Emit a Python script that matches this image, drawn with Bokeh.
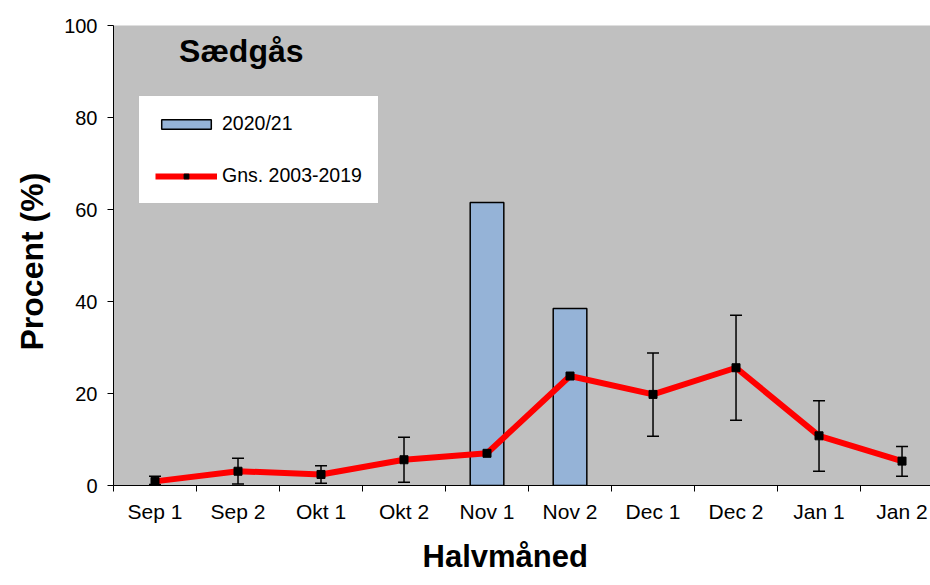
import math
from bokeh.plotting import figure
from bokeh.models import (Range1d, FixedTicker, ColumnDataSource, Whisker, TeeHead,
                          Legend, LegendItem, Label, Title)
from bokeh.embed import file_html
from bokeh.resources import INLINE

# ---- data ----
categories = ["Sep 1", "Sep 2", "Okt 1", "Okt 2", "Nov 1", "Nov 2",
              "Dec 1", "Dec 2", "Jan 1", "Jan 2"]
season_2020 = [0, 0, 0, 0, 61.5, 38.5, 0, 0, 0, 0]
mean_2003_2019 = [0.9, 3.1, 2.4, 5.6, 7.0, 23.8, 19.8, 25.6, 10.8, 5.3]
err_upper = [2.0, 5.9, 4.3, 10.5, 12.2, 37.3, 28.8, 37.0, 18.4, 8.5]
err_lower = [0.2, 0.3, 0.5, 0.7, 1.7, 10.1, 10.7, 14.2, 3.1, 2.0]
y_ticks = [0, 20, 40, 60, 80, 100]

FONT = "Liberation Sans"
xs = list(range(len(categories)))

src = ColumnDataSource(dict(x=xs, avg=mean_2003_2019, hi=err_upper, lo=err_lower))
bar_idx = [i for i, v in enumerate(season_2020) if v > 0]
bar_src = ColumnDataSource(dict(x=bar_idx, top=[season_2020[i] for i in bar_idx]))

p = figure(width=930, height=585,
           x_range=Range1d(-0.5, 9.343), y_range=Range1d(0, 100),
           output_backend="svg", toolbar_location=None,
           min_border_left=113, min_border_top=25,
           min_border_right=0, min_border_bottom=100)

p.background_fill_color = "#C0C0C0"
p.border_fill_color = "white"
p.outline_line_color = None
p.xgrid.visible = False
p.ygrid.visible = False

# bars
bars = p.vbar(x="x", top="top", width=0.405, source=bar_src,
              fill_color="#95B3D7", line_color="black", line_width=1.5)

# error bars
wh = Whisker(source=src, base="x", upper="hi", lower="lo",
             line_color="black", line_width=1.5,
             upper_head=TeeHead(size=12, line_color="black", line_width=1.5),
             lower_head=TeeHead(size=12, line_color="black", line_width=1.5))
p.add_layout(wh)

# mean line
ln = p.line(x="x", y="avg", source=src, line_color="#FF0000", line_width=6)
sc = p.scatter(x="x", y="avg", source=src, marker="square", size=8,
               fill_color="black", line_color="black")

# axes
p.xaxis.ticker = FixedTicker(ticks=xs, minor_ticks=[i - 0.5 for i in range(len(categories) + 1)])
p.xaxis.major_label_overrides = {i: c for i, c in enumerate(categories)}
p.xaxis.major_tick_line_color = None
p.xaxis.minor_tick_line_color = "black"
p.xaxis.minor_tick_out = 6
p.xaxis.minor_tick_in = 0
p.xaxis.major_label_standoff = 8
p.xaxis.major_label_text_font_size = "21px"

p.yaxis.ticker = FixedTicker(ticks=y_ticks)
p.yaxis.minor_tick_line_color = None
p.yaxis.major_tick_out = 6
p.yaxis.major_tick_in = 0
p.yaxis.major_label_standoff = 10
p.yaxis.major_label_text_font_size = "20px"

for ax in (p.xaxis[0], p.yaxis[0]):
    ax.axis_line_color = "black"
    ax.axis_line_width = 1
    ax.major_tick_line_width = 1
    ax.major_label_text_font = FONT
    ax.major_label_text_color = "black"

# axis titles (as side titles so they can be nudged)
p.add_layout(Title(text="Halvmåned", align="left", offset=309, vertical_align="bottom",
                   text_font=FONT, text_font_size="31px", text_font_style="bold",
                   text_color="black", standoff=22), "below")
p.add_layout(Title(text="Procent (%)", align="left", offset=135, vertical_align="middle",
                   text_font=FONT, text_font_size="32px", text_font_style="bold",
                   text_color="black", standoff=22), "left")

# chart title inside plot area
p.add_layout(Label(x=0.29, y=94.5, text="Sædgås", text_font=FONT,
                   text_font_size="32px", text_font_style="bold",
                   text_color="black", text_align="left", text_baseline="middle"))

legend = Legend(items=[LegendItem(label="2020/21", renderers=[bars]),
                       LegendItem(label="Gns. 2003-2019", renderers=[ln, sc])],
                location=(25, 281), orientation="vertical",
                background_fill_color="white", background_fill_alpha=1.0,
                border_line_color="#808080", border_line_width=1,
                label_text_font=FONT, label_text_font_size="19.5px",
                label_text_color="black", label_standoff=5,
                glyph_width=62, glyph_height=12, label_height=20,
                padding=16, spacing=29, margin=0)
p.add_layout(legend)

open("out.html", "w").write(file_html(p, INLINE))
